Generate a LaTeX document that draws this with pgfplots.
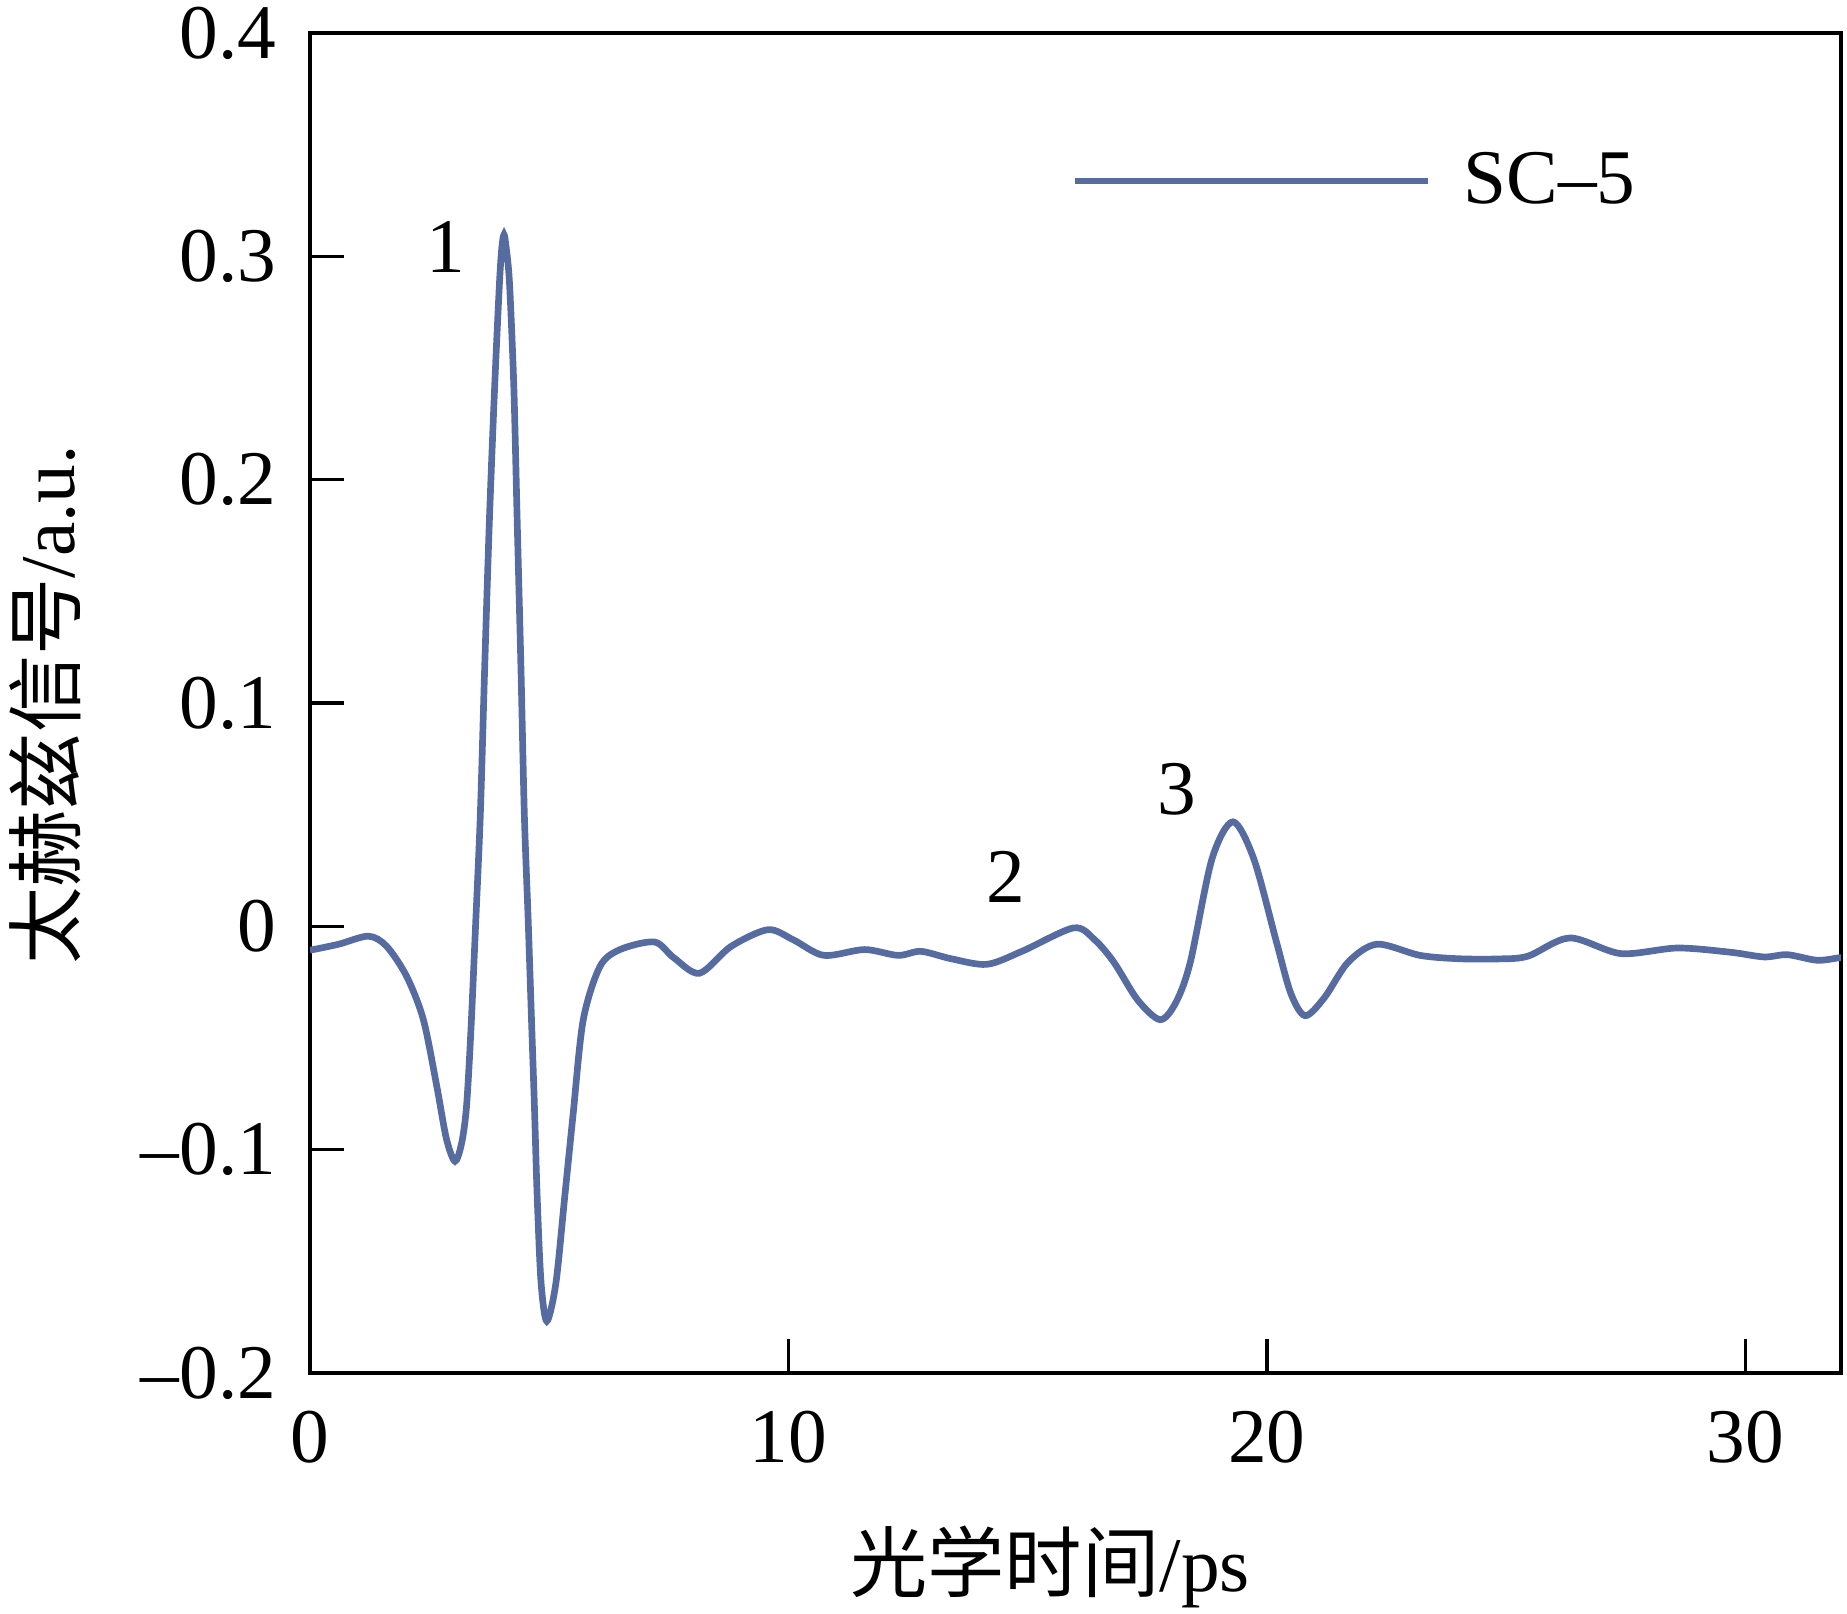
\documentclass[border=0pt]{standalone}
\usepackage{pgfplots}
\pgfplotsset{compat=1.18}
\usepackage{fontspec}
\setmainfont{Liberation Serif}
\newfontfamily\cjk{Noto Sans CJK SC}
\definecolor{lineblue}{RGB}{86,108,160}
\begin{document}
\begin{tikzpicture}
\useasboundingbox (-3.10cm,-2.40cm) rectangle (15.37cm,13.73cm);
\begin{axis}[
  scale only axis,
  width=15.31cm, height=13.40cm,
  xmin=0, xmax=32, ymin=-0.2, ymax=0.4,
  axis line style={line width=1.3pt},
  tick style={line width=1pt, black},
  tick align=inside,
  major tick length=3.4mm,
  xtick pos=bottom, ytick pos=left,
  xtick={0,10,20,30},
  ytick={-0.2,-0.1,0,0.1,0.2,0.3,0.4},
  yticklabels={–0.2,–0.1,0,0.1,0.2,0.3,0.4},
  xticklabels={0,10,20,30},
  tick label style={font=\fontsize{22}{26}\selectfont, inner sep=0pt},
  yticklabel style={anchor=east, xshift=-3.3mm},
  xticklabel style={anchor=north, yshift=-3.7mm},
  xlabel={{\cjk 光学时间}/ps},
  xlabel style={font=\fontsize{22}{26}\selectfont, at={(axis description cs:0.4834,0)}, anchor=center, yshift=-1.94cm},
  legend style={at={(axis description cs:0.4977,0.8896)}, anchor=west, draw=none, fill=none, inner sep=0pt, outer sep=0pt, font=\fontsize{22}{26}\selectfont, nodes={inner sep=0pt}},
  legend image code/.code={\draw[#1] (0cm,0cm) -- (3.53cm,0cm); \path (3.85cm,0cm);},
  clip=true,
]
\addplot[color=lineblue, line width=1.9pt, smooth, tension=0.5] coordinates {
(0,-0.0107) (0.6,-0.008) (1.22,-0.0044) (1.6,-0.0089) (2.02,-0.0224) (2.37,-0.0418)
(2.65,-0.0716) (2.85,-0.095) (3.03,-0.1052) (3.17,-0.097) (3.27,-0.081)
(3.36,-0.048) (3.46,0.0) (3.56,0.05) (3.65,0.115) (3.75,0.182) (3.86,0.2418)
(3.96,0.288) (4.01,0.304) (4.055,0.3097) (4.10,0.304) (4.17,0.288) (4.26,0.2418)
(4.33,0.182) (4.41,0.115) (4.48,0.050) (4.56,0.003) (4.63,-0.042) (4.69,-0.08)
(4.75,-0.122) (4.83,-0.1597) (4.95,-0.1768) (5.14,-0.1597) (5.32,-0.122)
(5.50,-0.084) (5.71,-0.042) (6.06,-0.018) (6.48,-0.0104) (7.2,-0.007)
(7.6,-0.014) (8.14,-0.021) (8.8,-0.009) (9.57,-0.0015)
(10.1,-0.006) (10.74,-0.013) (11.59,-0.0104) (12.29,-0.013) (12.77,-0.0112)
(13.4,-0.0145) (14.15,-0.017) (14.9,-0.011) (15.96,-0.0007) (16.4,-0.006)
(16.8,-0.016) (17.3,-0.033) (17.77,-0.0418) (18.1,-0.034) (18.4,-0.016)
(18.85,0.030) (19.29,0.0468) (19.73,0.030) (20.2,-0.007) (20.5,-0.030)
(20.8,-0.040) (21.2,-0.032) (21.7,-0.016) (22.3,-0.008) (23.2,-0.013)
(24.0,-0.0145) (24.82,-0.0146) (25.45,-0.0134) (26.33,-0.0052) (27.4,-0.0122)
(28.58,-0.0097) (29.69,-0.0116) (30.39,-0.0137) (30.88,-0.0127) (31.5,-0.0152)
(31.95,-0.0141) (32,-0.0141)
};
\addlegendentry{SC–5}
\node[font=\fontsize{22}{26}\selectfont] at (axis cs:2.83,0.304) {1};
\node[font=\fontsize{22}{26}\selectfont] at (axis cs:14.55,0.022) {2};
\node[font=\fontsize{22}{26}\selectfont] at (axis cs:18.11,0.0615) {3};
\end{axis}
\node[rotate=90, font=\fontsize{22}{26}\selectfont] at (-2.65cm,6.68cm) {{\cjk 太赫兹信号}/a.u.};
\end{tikzpicture}
\end{document}
